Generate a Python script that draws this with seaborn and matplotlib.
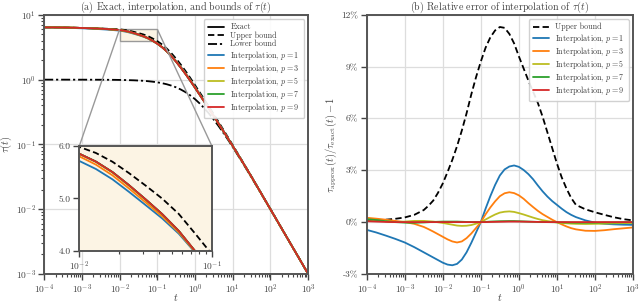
import numpy as np
import pandas as pd
import matplotlib
matplotlib.use("Agg")
import matplotlib.pyplot as plt
import seaborn as sns
from matplotlib.ticker import FuncFormatter, LogLocator, NullFormatter, LogFormatterSciNotation
from mpl_toolkits.axes_grid1.inset_locator import mark_inset

# ---------------- data ----------------
log_t = [-4.0, -3.75, -3.5, -3.25, -3.0, -2.75, -2.5,
         -2.375, -2.25, -2.125, -2.0, -1.875, -1.75, -1.625, -1.5, -1.375, -1.25, -1.125, -1.0,
         -0.875, -0.75, -0.625, -0.5, -0.375, -0.25, -0.125, 0.0, 0.125, 0.25, 0.375, 0.5,
         0.625, 0.75, 0.875, 1.0, 1.125, 1.25, 1.375, 1.5,
         1.75, 2.0, 2.25, 2.5, 2.75, 3.0]

tau_exact = [6.42, 6.41, 6.38, 6.34, 6.28, 6.21, 6.12,
             6.065, 6.00, 5.93, 5.85, 5.70, 5.50, 5.25, 4.98, 4.70, 4.38, 3.99, 3.60,
             3.175, 2.734, 2.295, 1.887, 1.527, 1.218, 0.961, 0.749, 0.583, 0.453, 0.350, 0.271,
             0.209, 0.1606, 0.1232, 0.0943, 0.0719, 0.0547, 0.0415, 0.0314,
             0.0177, 0.00997, 0.00561, 0.00316, 0.00178, 0.00100]

tau_lower = [1.000, 1.000, 1.000, 0.999, 0.999, 0.998, 0.997,
             0.996, 0.994, 0.993, 0.990, 0.987, 0.982, 0.977, 0.969, 0.960, 0.947, 0.930, 0.909,
             0.882, 0.849, 0.808, 0.760, 0.703, 0.640, 0.571, 0.500, 0.428, 0.360, 0.297, 0.240,
             0.192, 0.151, 0.118, 0.091, 0.0697, 0.0533, 0.0405, 0.0307,
             0.0175, 0.0099, 0.0056, 0.00316, 0.00178, 0.00100]

# relative errors in percent
err_upper = [0.06, 0.10, 0.14, 0.19, 0.27, 0.42, 0.70,
             0.95, 1.25, 1.70, 2.24, 2.9, 3.6, 4.4, 5.3, 6.3, 7.4, 8.4, 9.3,
             10.1, 10.7, 11.1, 11.3, 11.25, 10.9, 10.35, 9.6, 8.9, 8.2, 7.55, 6.9,
             6.1, 5.2, 4.3, 3.4, 2.6, 1.95, 1.4, 1.0,
             0.74, 0.57, 0.42, 0.28, 0.17, 0.10]

err_p1 = [-0.45, -0.60, -0.78, -0.97, -1.18, -1.45, -1.75,
          -1.90, -2.05, -2.20, -2.35, -2.46, -2.50, -2.42, -2.17, -1.75, -1.20, -0.60, 0.0,
          0.78, 1.5, 2.15, 2.7, 3.05, 3.22, 3.28, 3.2, 3.02, 2.78, 2.48, 2.12,
          1.78, 1.48, 1.22, 1.0, 0.78, 0.58, 0.42, 0.29,
          0.10, -0.03, -0.10, -0.13, -0.15, -0.16]

err_p3 = [0.25, 0.20, 0.14, 0.07, 0.0, -0.10, -0.28,
          -0.41, -0.55, -0.70, -0.85, -1.0, -1.12, -1.18, -1.12, -0.93, -0.66, -0.34, 0.0,
          0.45, 0.85, 1.2, 1.5, 1.67, 1.73, 1.68, 1.55, 1.35, 1.1, 0.87, 0.65,
          0.46, 0.3, 0.14, 0.0, -0.13, -0.25, -0.35, -0.42,
          -0.50, -0.51, -0.47, -0.41, -0.36, -0.31]

err_p5 = [0.15, 0.10, 0.05, 0.0, 0.03, 0.07, 0.07,
          0.05, 0.03, -0.01, -0.05, -0.10, -0.15, -0.20, -0.22, -0.21, -0.17, -0.09, 0.0,
          0.15, 0.30, 0.44, 0.55, 0.60, 0.62, 0.59, 0.52, 0.44, 0.35, 0.26, 0.18,
          0.11, 0.06, 0.02, -0.02, -0.05, -0.07, -0.09, -0.10,
          -0.11, -0.10, -0.09, -0.07, -0.06, -0.05]

err_p7 = [0.17, 0.12, 0.05, 0.0, -0.03, -0.04, -0.02,
          -0.005, 0.01, 0.02, 0.03, 0.03, 0.03, 0.03, 0.02, 0.01, 0.0, 0.0, 0.0,
          0.01, 0.03, 0.04, 0.05, 0.055, 0.06, 0.06, 0.05, 0.04, 0.03, 0.02, 0.01,
          0.005, 0.0, -0.005, -0.01, -0.015, -0.02, -0.025, -0.03,
          -0.03, -0.03, -0.02, -0.02, -0.01, -0.01]

err_p9 = [0.05, 0.03, 0.01, 0.0, 0.0, 0.0, 0.0,
          0.0, 0.0, 0.0, 0.0, 0.0, 0.0, 0.0, 0.0, 0.0, 0.0, 0.0, 0.0,
          0.0, 0.01, 0.015, 0.02, 0.025, 0.03, 0.03, 0.03, 0.025, 0.02, 0.015, 0.01,
          0.005, 0.0, 0.0, 0.0, 0.0, 0.0, 0.0, 0.0,
          0.0, 0.0, 0.0, 0.0, 0.0, 0.0]

orders = [1, 3, 5, 7, 9]
interp_errs = [err_p1, err_p3, err_p5, err_p7, err_p9]
interp_colors = ["#1f77b4", "#ff7f0e", "#bcbd22", "#2ca02c", "#d62728"]

x_ticks = [1e-4, 1e-3, 1e-2, 1e-1, 1e0, 1e1, 1e2, 1e3]
left_yticks = [1e-3, 1e-2, 1e-1, 1e0, 1e1]
right_yticks = [-3, 0, 3, 6, 9, 12]
inset_xticks = [1e-2, 1e-1]
inset_yticks = [4.0, 5.0, 6.0]

n = len(log_t)
for arr in [tau_exact, tau_lower, err_upper] + interp_errs:
    assert len(arr) == n, len(arr)

# ---------------- style ----------------
sns.set_theme(style="whitegrid")
plt.rcParams.update({
    "font.family": "serif",
    "font.serif": ["cmr10"],
    "mathtext.fontset": "cm",
    "axes.formatter.use_mathtext": True,
    "axes.unicode_minus": False,
    "axes.edgecolor": "#555555",
    "axes.linewidth": 1.4,
    "axes.labelcolor": "#444444",
    "text.color": "#444444",
    "xtick.color": "#444444",
    "ytick.color": "#444444",
    "xtick.bottom": True,
    "ytick.left": True,
    "xtick.direction": "out",
    "ytick.direction": "out",
    "xtick.major.size": 4,
    "ytick.major.size": 4,
    "xtick.minor.size": 2.2,
    "ytick.minor.size": 2.2,
    "xtick.major.width": 1.0,
    "ytick.major.width": 1.0,
    "xtick.minor.width": 0.8,
    "ytick.minor.width": 0.8,
    "xtick.major.pad": 2.0,
    "ytick.major.pad": 2.0,
    "xtick.labelsize": 6.8,
    "ytick.labelsize": 6.8,
    "grid.color": "#dddddd",
    "grid.linewidth": 0.9,
})

t = 10.0 ** np.array(log_t)
exact = np.array(tau_exact)
df = pd.DataFrame({"t": t, "exact": exact, "lower": tau_lower,
                   "upper": exact * (1 + np.array(err_upper) / 100.0),
                   "err_upper": err_upper})
for p, e in zip(orders, interp_errs):
    df[f"p{p}"] = exact * (1 + np.array(e) / 100.0)
    df[f"e{p}"] = e

fig = plt.figure(figsize=(6.4, 3.04), dpi=100)
ax1 = fig.add_axes([0.069, 0.099, 0.4125, 0.852])
ax2 = fig.add_axes([0.573, 0.099, 0.416, 0.852])
LW = 1.3
DASH = (0, (3.5, 1.8))
DASHDOT = (0, (5, 1.6, 1.2, 1.6))
MINOR = LogLocator(base=10, subs=np.arange(2, 10), numticks=20)

def draw_left(ax, legend=True):
    sns.lineplot(data=df, x="t", y="exact", ax=ax, color="black", lw=LW,
                 label="Exact" if legend else None)
    sns.lineplot(data=df, x="t", y="upper", ax=ax, color="black", lw=LW,
                 linestyle=DASH, label="Upper bound" if legend else None)
    sns.lineplot(data=df, x="t", y="lower", ax=ax, color="black", lw=LW,
                 linestyle=DASHDOT, label="Lower bound" if legend else None)
    for p, c in zip(orders, interp_colors):
        sns.lineplot(data=df, x="t", y=f"p{p}", ax=ax, color=c, lw=LW,
                     label=f"Interpolation, $p = {p}$" if legend else None)

LEG = dict(loc="upper right", fontsize=5.8, handlelength=2.0, labelspacing=0.02,
           borderpad=0.5, handletextpad=0.8, frameon=True, framealpha=0.9)

draw_left(ax1)
ax1.set_xscale("log")
ax1.set_yscale("log")
ax1.set_xticks(x_ticks)
ax1.set_yticks(left_yticks)
ax1.xaxis.set_major_formatter(LogFormatterSciNotation())
ax1.yaxis.set_major_formatter(LogFormatterSciNotation())
ax1.xaxis.set_minor_locator(MINOR)
ax1.yaxis.set_minor_locator(LogLocator(base=10, subs=np.arange(2, 10), numticks=20))
ax1.xaxis.set_minor_formatter(NullFormatter())
ax1.yaxis.set_minor_formatter(NullFormatter())
ax1.set_xlim(1e-4, 1e3)
ax1.set_ylim(1e-3, 1e1)
ax1.set_xlabel("$t$", fontsize=7.5)
ax1.xaxis.set_label_coords(0.5, -0.07)
ax1.set_ylabel(r"$\tau(t)$", fontsize=7.5, labelpad=1)
ax1.set_title(r"(a) Exact, interpolation, and bounds of $\tau(t)$", fontsize=7.2, pad=1.5)
ax1.grid(True, which="major")
ax1.legend(**LEG)

# inset
axins = fig.add_axes([0.124, 0.175, 0.207, 0.345])
draw_left(axins, legend=False)
axins.set_xscale("log")
axins.set_xticks(inset_xticks)
axins.set_yticks(inset_yticks)
axins.xaxis.set_major_formatter(LogFormatterSciNotation())
axins.yaxis.set_major_formatter(FuncFormatter(lambda v, pos: f"{v:.1f}"))
axins.xaxis.set_minor_locator(LogLocator(base=10, subs=np.arange(2, 10), numticks=20))
axins.xaxis.set_minor_formatter(NullFormatter())
axins.set_xlim(1e-2, 1e-1)
axins.set_ylim(4.0, 6.0)
axins.set_facecolor("#fcf4e4")
axins.grid(False)
axins.xaxis.label.set_visible(False)
axins.yaxis.label.set_visible(False)
for s in axins.spines.values():
    s.set_linewidth(1.4)
    s.set_edgecolor("#555555")
pp, c1, c2 = mark_inset(ax1, axins, loc1=2, loc2=1, fc="#fcf4e4", ec="#999999", lw=1.0)
pp.set_zorder(1.5)

# right panel
sns.lineplot(data=df, x="t", y="err_upper", ax=ax2, color="black", lw=LW,
             linestyle=DASH, label="Upper bound")
for p, c in zip(orders, interp_colors):
    sns.lineplot(data=df, x="t", y=f"e{p}", ax=ax2, color=c, lw=LW,
                 label=f"Interpolation, $p = {p}$")
ax2.set_xscale("log")
ax2.set_xticks(x_ticks)
ax2.set_yticks(right_yticks)
ax2.xaxis.set_major_formatter(LogFormatterSciNotation())
ax2.yaxis.set_major_formatter(FuncFormatter(lambda v, pos: f"{v:.0f}%"))
ax2.xaxis.set_minor_locator(LogLocator(base=10, subs=np.arange(2, 10), numticks=20))
ax2.xaxis.set_minor_formatter(NullFormatter())
ax2.set_xlim(1e-4, 1e3)
ax2.set_ylim(-3, 12)
ax2.set_xlabel("$t$", fontsize=7.5)
ax2.xaxis.set_label_coords(0.5, -0.07)
ax2.set_ylabel(r"$\tau_{\mathrm{approx}}(t)/\tau_{\mathrm{exact}}(t) - 1$", fontsize=7.5, labelpad=2)
ax2.set_title(r"(b) Relative error of interpolation of $\tau(t)$", fontsize=7.2, pad=1.5)
ax2.grid(True, which="major")
ax2.legend(**LEG)

fig.savefig("out.png", dpi=100)
